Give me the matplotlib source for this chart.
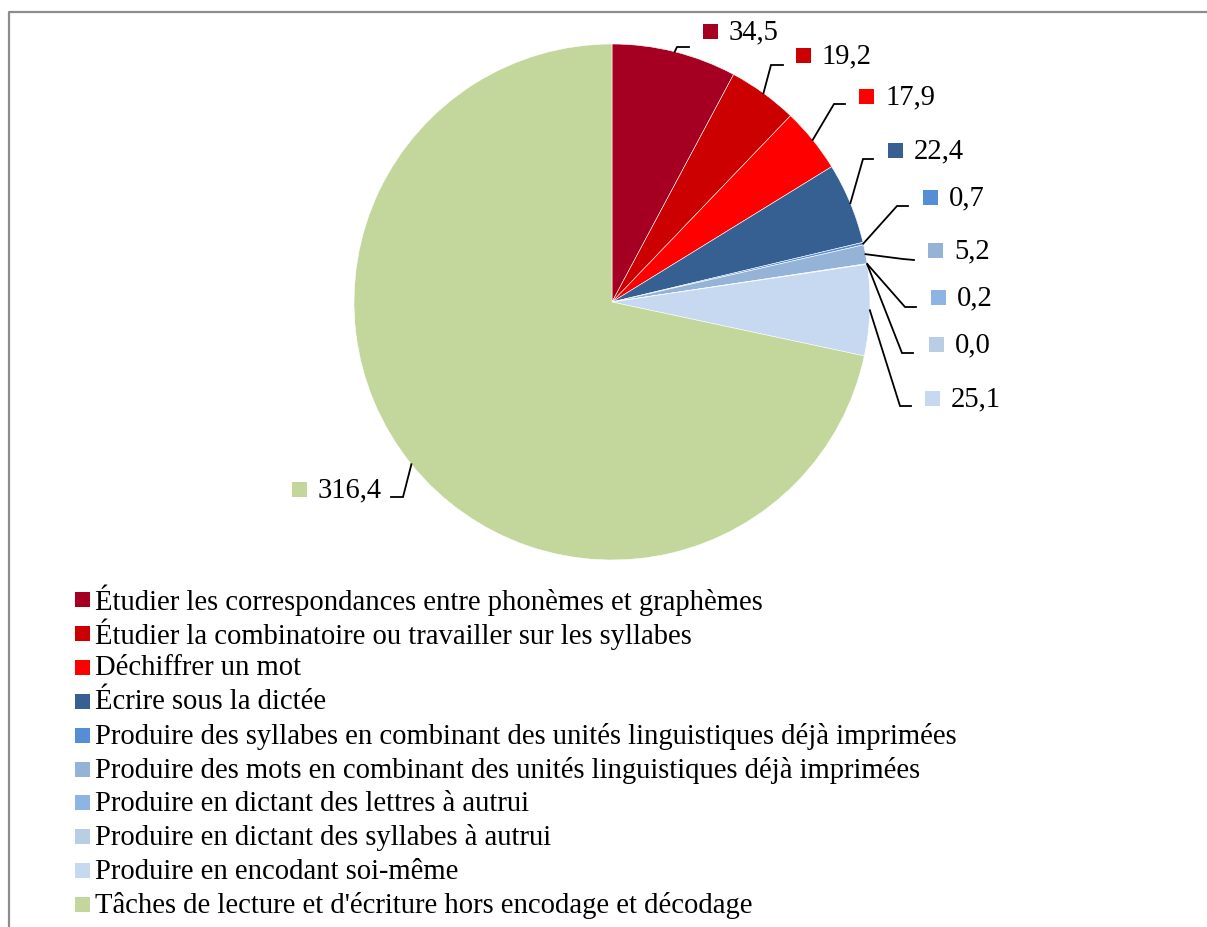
import numpy as np
import matplotlib
matplotlib.use("Agg")
import matplotlib.pyplot as plt
from matplotlib.patches import Rectangle
from matplotlib.lines import Line2D

# data
categories = [
    "Étudier les correspondances entre phonèmes et graphèmes",
    "Étudier la combinatoire ou travailler sur les syllabes",
    "Déchiffrer un mot",
    "Écrire sous la dictée",
    "Produire des syllabes en combinant des unités linguistiques déjà imprimées",
    "Produire des mots en combinant des unités linguistiques déjà imprimées",
    "Produire en dictant des lettres à autrui",
    "Produire en dictant des syllabes à autrui",
    "Produire en encodant soi-même",
    "Tâches de lecture et d'écriture hors encodage et décodage",
]
values = [34.5, 19.2, 17.9, 22.4, 0.7, 5.2, 0.2, 0.0, 25.1, 316.4]
value_labels = ["34,5", "19,2", "17,9", "22,4", "0,7", "5,2", "0,2", "0,0", "25,1", "316,4"]
colors = ["#A50021", "#CC0000", "#FF0000", "#366092", "#558ED5",
          "#95B3D7", "#8EB4E3", "#B9CDE5", "#C6D9F1", "#C3D69B"]

# layout (pixel coordinates, y downwards)
W, H = 1207, 927
center = (612, 302)
radius = 258
# data label: square centre, elbow point, leader end
label_sq = [(710, 31), (803, 55), (866, 96), (895, 150), (930, 197),
            (935, 250), (938, 297), (936, 344), (932, 398), (299, 489)]
elbows = [(677, 47), (771, 65), (834, 104), (863, 159), (897, 206),
          (903, 259), (905, 307), (902, 353), (900, 406), (403, 497)]
ends = [(689, 47), (783, 65), (845, 104), (873, 159), (908, 206),
        (914, 260), (916, 307), (913, 353), (911, 406), (391, 497)]

FONT = ["Liberation Serif", "DejaVu Serif"]
FS = 20.6

fig = plt.figure(figsize=(W / 100, H / 100), dpi=100)
ax = fig.add_axes([0, 0, 1, 1])

wedges, _ = ax.pie(values, colors=colors, center=center, radius=radius,
                   startangle=-90, counterclock=True,
                   wedgeprops=dict(linewidth=0.4, edgecolor="white"))
ax.set_xlim(0, W)
ax.set_ylim(H, 0)
ax.set_aspect("equal")
ax.axis("off")

# frame lines (left and top)
ax.add_line(Line2D([8.5, 8.5, W], [H, 11.5, 11.5], color="#8c8c8c", lw=1.6))

# data labels with leader lines
for w, lab, col, sq, el, en in zip(wedges, value_labels, colors, label_sq, elbows, ends):
    ang = np.deg2rad((w.theta1 + w.theta2) / 2)
    sx = center[0] + radius * np.cos(ang)
    sy = center[1] + radius * np.sin(ang)
    ax.plot([sx, el[0], en[0]], [sy, el[1], en[1]], color="black", lw=1.3,
            solid_joinstyle="miter")
    ax.add_patch(Rectangle((sq[0] - 7.5, sq[1] - 7.5), 15, 15, color=col, lw=0))
    ax.text(sq[0] + 19, sq[1] + 1, lab, fontsize=FS, family=FONT,
            va="center", ha="left")

# legend
x0, y0, dy = 75, 599.5, 33.9
for i, (cat, col) in enumerate(zip(categories, colors)):
    yc = y0 + i * dy
    ax.add_patch(Rectangle((x0, yc - 7.5), 15, 15, color=col, lw=0))
    ax.text(x0 + 20, yc + 1, cat, fontsize=FS, family=FONT, va="center", ha="left")

fig.savefig("out.png", dpi=100, facecolor="white")
